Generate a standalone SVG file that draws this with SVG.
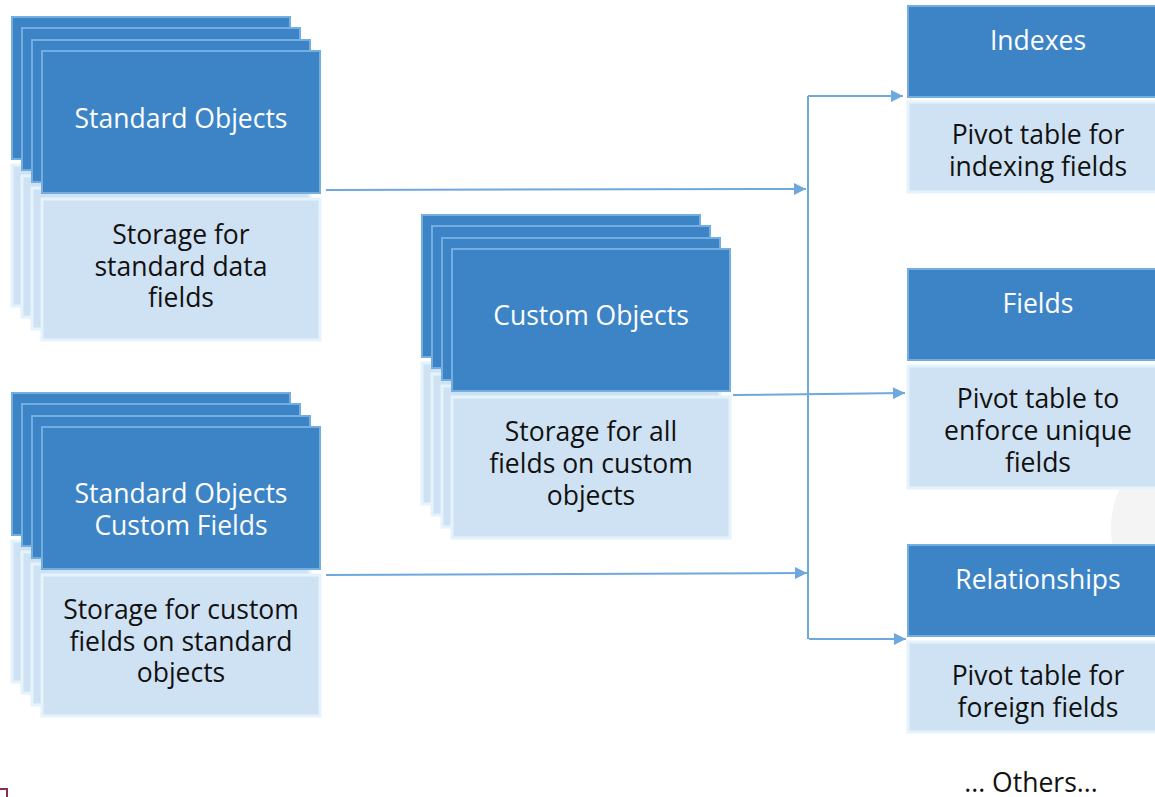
<svg xmlns="http://www.w3.org/2000/svg" width="1155" height="797" viewBox="0 0 1155 797">
<style>
.dk{fill:#3d84c6;stroke:#74aee0;stroke-width:2}
.lt{fill:#cfe2f3;stroke:#e4f3fc;stroke-width:3}
.tw{font-family:"Open Sans","Noto Sans","Liberation Sans",sans-serif;font-size:26.5px;fill:#ffffff;text-anchor:middle}
.tb{font-family:"Open Sans","Noto Sans","Liberation Sans",sans-serif;font-size:26.5px;fill:#111111;text-anchor:middle}
.cn{fill:none;stroke:#6fa8dc;stroke-width:2}
</style>
<defs>
<marker id="ah" viewBox="0 0 10 10" refX="10" refY="5" markerWidth="8" markerHeight="6" markerUnits="strokeWidth" orient="auto">
<path d="M0,0 L10,5 L0,10 z" fill="#6fa8dc"/>
</marker>
<g id="layer">
<rect class="dk" x="0" y="0" width="278" height="142"/>
<rect class="lt" x="0" y="148" width="278" height="141"/>
</g>
</defs>
<rect width="1155" height="797" fill="#ffffff"/>
<circle cx="1205" cy="528" r="94" fill="#f4f4f4"/>
<path d="M0,789 L7,789 L7,797" fill="none" stroke="#8c2d4b" stroke-width="2"/>

<g id="connectors">
<path class="cn" d="M326,190 L806,189" marker-end="url(#ah)"/>
<path class="cn" d="M808,96 L808,639"/>
<path class="cn" d="M808,96 L903,96" marker-end="url(#ah)"/>
<path class="cn" d="M809,639 L906,639" marker-end="url(#ah)"/>
<path class="cn" d="M733,395 L905,393" marker-end="url(#ah)"/>
<path class="cn" d="M326,575 L807,573" marker-end="url(#ah)"/>
</g>

<g id="standard-objects">
<use href="#layer" x="12" y="17"/>
<use href="#layer" x="22" y="28"/>
<use href="#layer" x="32" y="40"/>
<use href="#layer" x="42" y="51"/>
<text class="tw" x="181" y="128">Standard Objects</text>
<text class="tb" x="181" y="244">Storage for</text>
<text class="tb" x="181" y="276">standard data</text>
<text class="tb" x="181" y="307">fields</text>
</g>

<g id="standard-objects-custom-fields">
<use href="#layer" x="12" y="393"/>
<use href="#layer" x="22" y="404"/>
<use href="#layer" x="32" y="416"/>
<use href="#layer" x="42" y="427"/>
<text class="tw" x="181" y="503">Standard Objects</text>
<text class="tw" x="181" y="535">Custom Fields</text>
<text class="tb" x="181" y="619">Storage for custom</text>
<text class="tb" x="181" y="651">fields on standard</text>
<text class="tb" x="181" y="682">objects</text>
</g>

<g id="custom-objects">
<use href="#layer" x="422" y="215"/>
<use href="#layer" x="432" y="226"/>
<use href="#layer" x="442" y="238"/>
<use href="#layer" x="452" y="249"/>
<text class="tw" x="591" y="325">Custom Objects</text>
<text class="tb" x="591" y="441">Storage for all</text>
<text class="tb" x="591" y="473">fields on custom</text>
<text class="tb" x="591" y="505">objects</text>
</g>

<g id="indexes">
<rect class="dk" x="908" y="6" width="262" height="91"/>
<rect class="lt" x="908" y="102" width="262" height="90"/>
<text class="tw" x="1038" y="50">Indexes</text>
<text class="tb" x="1038" y="144">Pivot table for</text>
<text class="tb" x="1038" y="176">indexing fields</text>
</g>

<g id="fields">
<rect class="dk" x="908" y="269" width="262" height="91"/>
<rect class="lt" x="908" y="366" width="262" height="122"/>
<text class="tw" x="1038" y="313">Fields</text>
<text class="tb" x="1038" y="408">Pivot table to</text>
<text class="tb" x="1038" y="440">enforce unique</text>
<text class="tb" x="1038" y="472">fields</text>
</g>

<g id="relationships">
<rect class="dk" x="908" y="545" width="262" height="91"/>
<rect class="lt" x="908" y="642" width="262" height="90"/>
<text class="tw" x="1038" y="589">Relationships</text>
<text class="tb" x="1038" y="685">Pivot table for</text>
<text class="tb" x="1038" y="717">foreign fields</text>
</g>

<g id="others">
<text class="tb" x="1031" y="792">... Others...</text>
</g>
</svg>
